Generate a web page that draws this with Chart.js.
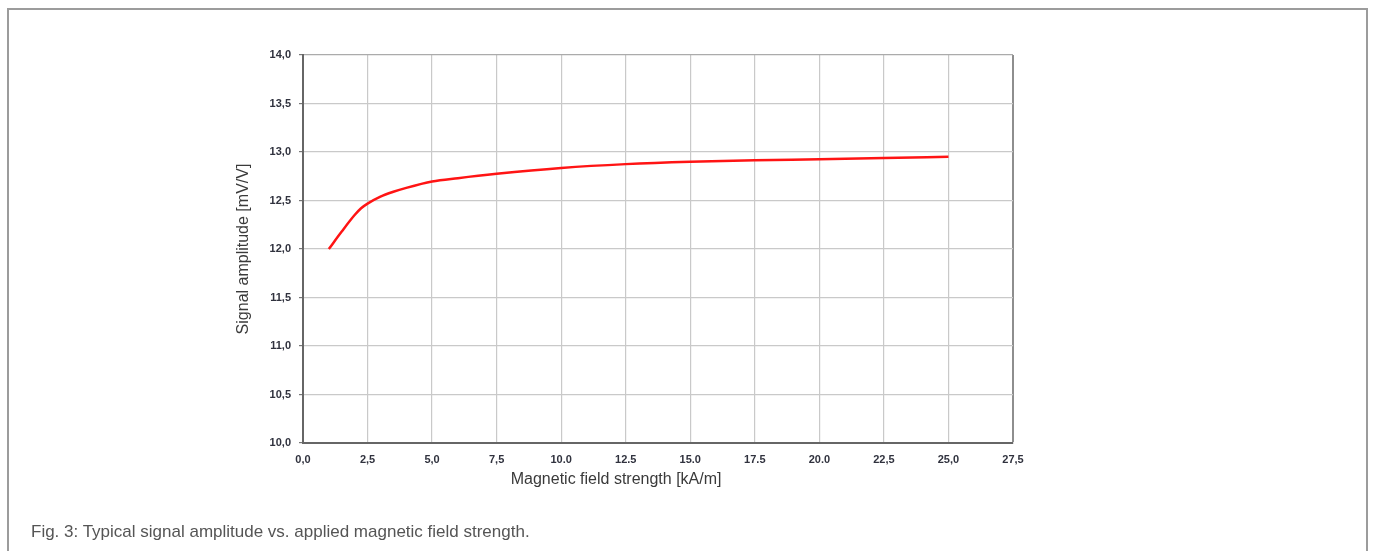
<!DOCTYPE html>
<html>
<head>
<meta charset="utf-8">
<title>Signal amplitude vs. magnetic field strength</title>
<script src="https://cdn.jsdelivr.net/npm/chart.js@4.4.1/dist/chart.umd.min.js"></script>
<style>
  html, body { margin: 0; padding: 0; background: #fff; overflow: hidden; }
  #frame {
    position: absolute; left: 7px; top: 8px; width: 1357px; height: 600px;
    border: 2px solid #9c9c9c; box-sizing: content-box;
  }
  #wrap { position: absolute; left: 0; top: 0; width: 1373px; height: 551px; }
  #caption {
    position: absolute; left: 31px; top: 523px;
    font: 17px/17px "Liberation Sans", Arial, sans-serif; color: #555;
    white-space: nowrap;
  }
</style>
</head>
<body>
<div id="frame"></div>
<div id="wrap"><canvas id="chart" width="1373" height="551"></canvas></div>
<div id="caption">Fig. 3: Typical signal amplitude vs. applied magnetic field strength.</div>
<script>
// Values
var fieldStrength = [1.0, 1.5, 2.0, 2.25, 2.5, 3.0, 3.5, 4.0, 5.0, 6.0, 7.5, 10.0, 12.5, 15.0, 17.5, 20.0, 22.5, 25.0];
var signalAmplitude = [12.0, 12.18, 12.35, 12.42, 12.468, 12.54, 12.59, 12.63, 12.695, 12.73, 12.775, 12.835, 12.875, 12.9, 12.915, 12.925, 12.937, 12.95];

// Tick labels as printed (the original mixes commas and dots)
var xTickLabels = ['0,0', '2,5', '5,0', '7,5', '10.0', '12.5', '15.0', '17.5', '20.0', '22,5', '25,0', '27,5'];
var yTickLabels = ['10,0', '10,5', '11,0', '11,5', '12,0', '12,5', '13,0', '13,5', '14,0'];

var xTitle = 'Magnetic field strength [kA/m]';
var yTitle = 'Signal amplitude [mV/V]';

(function () {
  'use strict';

  var tickFont = { family: '"Liberation Sans", Arial, sans-serif', size: 11, weight: 'bold' };
  var tickColor = '#30323e';
  var gridColor = '#c9c9c9';

  // x-axis title sits a bit left of the plot centre in the original
  var xTitlePlugin = {
    id: 'xTitle',
    afterDraw: function (chart) {
      var area = chart.chartArea;
      var ctx = chart.ctx;
      ctx.save();
      ctx.font = '16px "Liberation Sans", Arial, sans-serif';
      ctx.fillStyle = '#3a3a3a';
      ctx.textAlign = 'center';
      ctx.textBaseline = 'middle';
      ctx.fillText(xTitle, area.left + (area.right - area.left) * 0.441, area.bottom + 37);
      ctx.restore();
    }
  };

  var points = fieldStrength.map(function (x, i) { return { x: x, y: signalAmplitude[i] }; });

  new Chart(document.getElementById('chart'), {
    type: 'line',
    data: {
      datasets: [{
        label: 'Signal amplitude',
        data: points,
        borderColor: '#ff1414',
        borderWidth: 2.5,
        pointRadius: 0,
        fill: false,
        cubicInterpolationMode: 'monotone'
      }]
    },
    options: {
      responsive: false,
      animation: false,
      layout: { padding: { left: 233, top: 55, right: 360, bottom: 78 } },
      plugins: {
        legend: { display: false },
        tooltip: { enabled: false }
      },
      scales: {
        x: {
          type: 'linear',
          min: 0,
          max: 27.5,
          afterFit: function (scale) { scale.height = 30; },
          afterBuildTicks: function (scale) {
            scale.ticks = xTickLabels.map(function (_, i) { return { value: i * 2.5 }; });
          },
          ticks: {
            autoSkip: false,
            maxRotation: 0,
            padding: 10,
            color: tickColor,
            font: tickFont,
            callback: function (v, i) { return xTickLabels[i]; }
          },
          grid: {
            drawTicks: false,
            lineWidth: function (ctx) { return ctx.index === xTickLabels.length - 1 ? 2 : 1.2; },
            color: function (ctx) { return ctx.index === xTickLabels.length - 1 ? '#8e8e8e' : gridColor; }
          },
          border: { color: '#666', width: 2 }
        },
        y: {
          type: 'linear',
          min: 10,
          max: 14,
          afterFit: function (scale) { scale.width = 70; },
          afterBuildTicks: function (scale) {
            scale.ticks = yTickLabels.map(function (_, i) { return { value: 10 + i * 0.5 }; });
          },
          ticks: {
            autoSkip: false,
            padding: 8,
            color: tickColor,
            font: tickFont,
            callback: function (v, i) { return yTickLabels[i]; }
          },
          grid: {
            tickLength: 4,
            tickColor: '#777',
            lineWidth: 1.2,
            color: function (ctx) { return ctx.index === yTickLabels.length - 1 ? '#ababab' : gridColor; }
          },
          border: { color: '#666', width: 2 },
          title: {
            display: true,
            text: yTitle,
            color: '#3a3a3a',
            padding: { top: 1, bottom: 0 },
            font: { family: '"Liberation Sans", Arial, sans-serif', size: 16 }
          }
        }
      }
    },
    plugins: [xTitlePlugin]
  });
})();
</script>
</body>
</html>
